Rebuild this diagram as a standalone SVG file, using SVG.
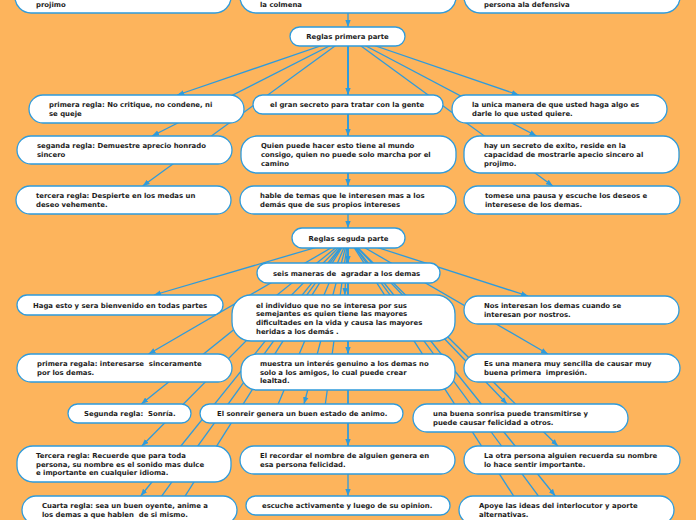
<svg xmlns="http://www.w3.org/2000/svg" width="696" height="520" viewBox="0 0 696 520" xml:space="preserve">
<style>
.bg{fill:#FDB45C}
.box{fill:#ffffff;stroke:#2E9BDC;stroke-width:1.3}
.t{font-family:"DejaVu Sans",Verdana,sans-serif;font-weight:bold;font-size:6.9px;fill:#1c1c1c;white-space:pre}
.c{text-anchor:middle}
.ln{stroke:#2E9BDC;stroke-width:1.3;fill:none}
.la{stroke:#2E9BDC;stroke-width:1.3;fill:none;marker-end:url(#ar)}
</style>
<defs>
<marker id="ar" markerUnits="userSpaceOnUse" markerWidth="8" markerHeight="6" refX="7" refY="3" orient="auto"><path d="M0,0.3 L7,3 L0,5.7 z" fill="#2E9BDC"/></marker>
</defs>
<rect class="bg" x="0" y="0" width="696" height="520"/>
<g id="connectors">
<line class="la" x1="348" y1="-5" x2="348" y2="27"/>
<line class="la" x1="348" y1="36.5" x2="177.3" y2="95"/>
<line class="la" x1="348" y1="36.5" x2="348" y2="95"/>
<line class="la" x1="348" y1="36.5" x2="518.7" y2="95"/>
<line class="la" x1="348" y1="36.5" x2="152.1" y2="136"/>
<line class="la" x1="348" y1="36.5" x2="348" y2="136"/>
<line class="la" x1="348" y1="36.5" x2="536.5" y2="136"/>
<line class="la" x1="348" y1="36.5" x2="142.7" y2="186"/>
<line class="la" x1="348" y1="36.5" x2="348" y2="186"/>
<line class="la" x1="348" y1="36.5" x2="552.8" y2="186"/>
<line class="la" x1="348" y1="36.5" x2="348" y2="228"/>
<line class="la" x1="348" y1="238" x2="348" y2="263"/>
<line class="la" x1="348" y1="238" x2="154" y2="295"/>
<line class="la" x1="348" y1="238" x2="344.8" y2="295"/>
<line class="la" x1="348" y1="238" x2="528" y2="296"/>
<line class="la" x1="348" y1="238" x2="148.6" y2="354"/>
<line class="la" x1="348" y1="238" x2="348" y2="354"/>
<line class="la" x1="348" y1="238" x2="547.9" y2="354"/>
<line class="la" x1="348" y1="238" x2="141.3" y2="404"/>
<line class="la" x1="348" y1="238" x2="304" y2="404"/>
<line class="la" x1="348" y1="238" x2="507" y2="404"/>
<line class="la" x1="348" y1="238" x2="141.8" y2="446"/>
<line class="la" x1="348" y1="238" x2="348" y2="446"/>
<line class="la" x1="348" y1="238" x2="557.9" y2="446"/>
<line class="la" x1="348" y1="238" x2="140.7" y2="496"/>
<line class="la" x1="348" y1="238" x2="348" y2="496"/>
<line class="la" x1="348" y1="238" x2="555.3" y2="496"/>
<line class="ln" x1="348" y1="238" x2="137.2" y2="530"/>
<line class="ln" x1="348" y1="238" x2="163.7" y2="530"/>
<line class="ln" x1="348" y1="238" x2="563.5" y2="530"/>
<line class="ln" x1="348" y1="238" x2="535.4" y2="530"/>
<line class="ln" x1="348" y1="238" x2="274" y2="414"/>
<line class="ln" x1="348" y1="238" x2="324" y2="414"/>
</g>
<g id="n-projimo"><rect class="box" x="15" y="-24" width="216" height="37" rx="16"/><text class="t" x="36" y="6.5">projimo</text></g>
<g id="n-colmena"><rect class="box" x="240" y="-24" width="216" height="37" rx="16"/><text class="t" x="260" y="6.5">la colmena</text></g>
<g id="n-defensiva"><rect class="box" x="464" y="-24" width="216" height="37" rx="16"/><text class="t" x="484" y="6.5">persona ala defensiva</text></g>
<g id="n-reglas1"><rect class="box" x="290" y="27" width="115" height="19" rx="9.5"/><text class="t c" x="347.5" y="39">Reglas primera parte</text></g>
<g id="n-a1"><rect class="box" x="29" y="95" width="215" height="28" rx="14"/><text class="t"><tspan x="49" y="107.1">primera regla: No critique, no condene, ni</tspan><tspan x="49" y="115.9">se queje</tspan></text></g>
<g id="n-a2"><rect class="box" x="253" y="95" width="190" height="19" rx="9.5"/><text class="t" x="270" y="107">el gran secreto para tratar con la gente</text></g>
<g id="n-a3"><rect class="box" x="452" y="95" width="215" height="28" rx="14"/><text class="t"><tspan x="472" y="107.1">la unica manera de que usted haga algo es</tspan><tspan x="472" y="115.9">darle lo que usted quiere.</tspan></text></g>
<g id="n-b1"><rect class="box" x="17" y="136" width="215" height="28" rx="14"/><text class="t"><tspan x="37" y="148.1">seganda regla: Demuestre aprecio honrado</tspan><tspan x="37" y="156.9">sincero</tspan></text></g>
<g id="n-b2"><rect class="box" x="241" y="136" width="215" height="37" rx="16"/><text class="t"><tspan x="261" y="148.3">Quien puede hacer esto tiene al mundo</tspan><tspan x="261" y="157">consigo, quien no puede solo marcha por el</tspan><tspan x="261" y="165.7">camino</tspan></text></g>
<g id="n-b3"><rect class="box" x="464" y="136" width="215" height="37" rx="16"/><text class="t"><tspan x="484" y="148.3">hay un secreto de exito, reside en la</tspan><tspan x="484" y="157">capacidad de mostrarle apecio sincero al</tspan><tspan x="484" y="165.7">projimo.</tspan></text></g>
<g id="n-c1"><rect class="box" x="16" y="186" width="215" height="28" rx="14"/><text class="t"><tspan x="36" y="198.1">tercera regla: Despierte en los medas un</tspan><tspan x="36" y="206.9">deseo vehemente.</tspan></text></g>
<g id="n-c2"><rect class="box" x="240" y="186" width="216" height="28" rx="14"/><text class="t"><tspan x="260" y="198.1">hable de temas que le interesen mas a los</tspan><tspan x="260" y="206.9">demás que de sus propios intereses</tspan></text></g>
<g id="n-c3"><rect class="box" x="464" y="186" width="216" height="28" rx="14"/><text class="t"><tspan x="485" y="198.1">tomese una pausa y escuche los deseos e</tspan><tspan x="485" y="206.9">interesese de los demas.</tspan></text></g>
<g id="n-reglas2"><rect class="box" x="292" y="228" width="113" height="20" rx="10"/><text class="t c" x="348.5" y="240.5">Reglas seguda parte</text></g>
<g id="n-seis"><rect class="box" x="257" y="263" width="183" height="20" rx="10"/><text class="t" x="273" y="275.5">seis maneras de  agradar a los demas</text></g>
<g id="n-e1"><rect class="box" x="17" y="295" width="206" height="20" rx="10"/><text class="t" x="33" y="307.5">Haga esto y sera bienvenido en todas partes</text></g>
<g id="n-e2"><rect class="box" x="232" y="295" width="223" height="46" rx="19"/><text class="t"><tspan x="256" y="307.5">el individuo que no se interesa por sus</tspan><tspan x="256" y="316.1">semejantes es quien tiene las mayores</tspan><tspan x="256" y="324.9">dificultades en la vida y causa las mayores</tspan><tspan x="256" y="333.5">heridas a los demás .</tspan></text></g>
<g id="n-e3"><rect class="box" x="464" y="296" width="215" height="28" rx="14"/><text class="t"><tspan x="484" y="308.1">Nos interesan los demas cuando se</tspan><tspan x="484" y="316.9">interesan por nostros.</tspan></text></g>
<g id="n-f1"><rect class="box" x="17" y="354" width="215" height="28" rx="14"/><text class="t"><tspan x="37" y="366.1">primera regala: interesarse  sinceramente</tspan><tspan x="37" y="374.9">por los demas.</tspan></text></g>
<g id="n-f2"><rect class="box" x="241" y="354" width="214" height="36" rx="16"/><text class="t"><tspan x="260" y="365.8">muestra un interés genuino a los demas no</tspan><tspan x="260" y="374.5">solo a los amigos, lo cual puede crear</tspan><tspan x="260" y="383.2">lealtad.</tspan></text></g>
<g id="n-f3"><rect class="box" x="464" y="354" width="216" height="28" rx="14"/><text class="t"><tspan x="484" y="366.1">Es una manera muy sencilla de causar muy</tspan><tspan x="484" y="374.9">buena primera  impresión.</tspan></text></g>
<g id="n-g1"><rect class="box" x="68" y="404" width="123" height="19" rx="9.5"/><text class="t" x="84" y="416">Segunda regla:  Sonría.</text></g>
<g id="n-g2"><rect class="box" x="200" y="404" width="203" height="19" rx="9.5"/><text class="t" x="217" y="416">El sonreir genera un buen estado de animo.</text></g>
<g id="n-g3"><rect class="box" x="413" y="404" width="215" height="28" rx="14"/><text class="t"><tspan x="433" y="416.1">una buena sonrisa puede transmitirse y</tspan><tspan x="433" y="424.9">puede causar felicidad a otros.</tspan></text></g>
<g id="n-h1"><rect class="box" x="17" y="446" width="214" height="36" rx="16"/><text class="t"><tspan x="36" y="457.8">Tercera regla: Recuerde que para toda</tspan><tspan x="36" y="466.5">persona, su nombre es el sonido mas dulce</tspan><tspan x="36" y="475.2">e importante en cualquier idioma.</tspan></text></g>
<g id="n-h2"><rect class="box" x="240" y="446" width="215" height="28" rx="14"/><text class="t"><tspan x="260" y="458.1">El recordar el nombre de alguien genera en</tspan><tspan x="260" y="466.9">esa persona felicidad.</tspan></text></g>
<g id="n-h3"><rect class="box" x="464" y="446" width="216" height="28" rx="14"/><text class="t"><tspan x="484" y="458.1">La otra persona alguien recuerda su nombre</tspan><tspan x="484" y="466.9">lo hace sentir importante.</tspan></text></g>
<g id="n-i1"><rect class="box" x="22" y="496" width="215" height="28" rx="14"/><text class="t"><tspan x="42" y="508.1">Cuarta regla: sea un buen oyente, anime a</tspan><tspan x="42" y="516.9">los demas a que hablen  de si mismo.</tspan></text></g>
<g id="n-i2"><rect class="box" x="246" y="496" width="204" height="19" rx="9.5"/><text class="t" x="262" y="508">escuche activamente y luego de su opinion.</text></g>
<g id="n-i3"><rect class="box" x="459" y="496" width="215" height="28" rx="14"/><text class="t"><tspan x="479" y="508.1">Apoye las ideas del interlocutor y aporte</tspan><tspan x="479" y="516.9">alternativas.</tspan></text></g>
</svg>
